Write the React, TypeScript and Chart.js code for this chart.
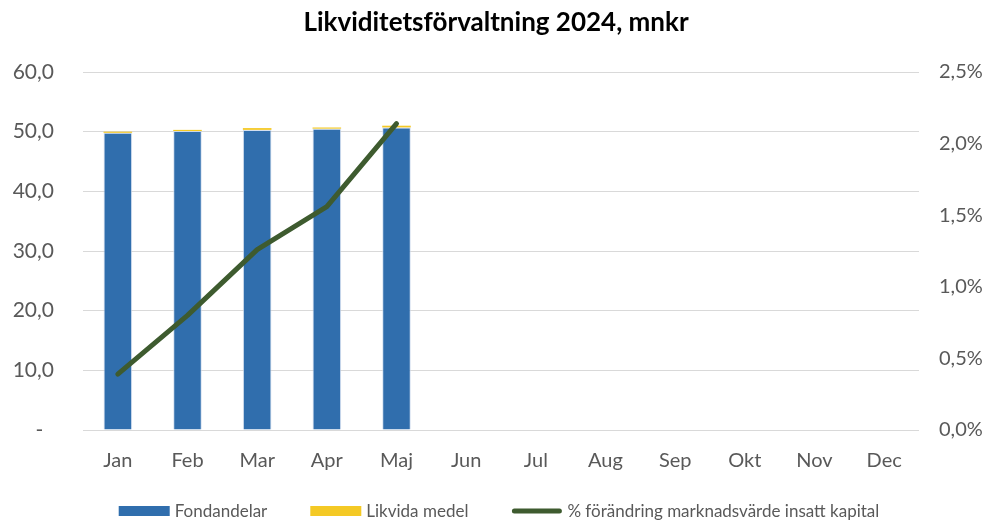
import React, { useEffect, useRef } from "react";
import { Chart, registerables } from "chart.js";

Chart.register(...registerables);

const TITLE = "Likviditetsförvaltning 2024, mnkr";
const MONTHS = ["Jan", "Feb", "Mar", "Apr", "Maj", "Jun", "Jul", "Aug", "Sep", "Okt", "Nov", "Dec"];
const FONDANDELAR = [49.8, 50.1, 50.3, 50.5, 50.7];
const LIKVIDA = [0.2, 0.2, 0.3, 0.2, 0.3];
const PCT_CHANGE = [0.39, 0.8, 1.26, 1.56, 2.14];
const SERIES_NAMES = ["Fondandelar", "Likvida medel", "% förändring marknadsvärde insatt kapital"];

const FONT = "Lato, 'Open Sans', sans-serif";
const BLUE = "#306EAD";
const YELLOW = "#F4C925";
const GREEN = "#3E5B2F";
const GREY = "#595959";

const overlayPlugin = {
  id: "overlay",
  afterDraw(chart: any) {
    const ctx = chart.ctx as CanvasRenderingContext2D;
    ctx.save();
    // title
    ctx.font = `bold 26px ${FONT}`;
    ctx.fillStyle = "#000000";
    ctx.textAlign = "center";
    ctx.textBaseline = "middle";
    ctx.fillText(TITLE, 496, 23);

    // legend
    ctx.font = `17px ${FONT}`;
    ctx.textAlign = "left";
    const boxW = 51;
    const gapText = 5;
    const gapItems = 43;
    const widths = SERIES_NAMES.map((n) => boxW + gapText + ctx.measureText(n).width);
    const total = widths.reduce((a, b) => a + b, 0) + gapItems * (SERIES_NAMES.length - 1);
    let x = 499 - total / 2;
    const y = 511;
    SERIES_NAMES.forEach((name, i) => {
      if (i === 2) {
        ctx.strokeStyle = GREEN;
        ctx.lineWidth = 5;
        ctx.lineCap = "round";
        ctx.beginPath();
        ctx.moveTo(x + 3, y);
        ctx.lineTo(x + boxW - 3, y);
        ctx.stroke();
      } else {
        ctx.fillStyle = i === 0 ? BLUE : YELLOW;
        ctx.fillRect(x, y - 5, boxW, 10);
      }
      ctx.fillStyle = GREY;
      ctx.fillText(name, x + boxW + gapText, y + 1);
      x += widths[i] + gapItems;
    });
    ctx.restore();
  },
};

export default function App() {
  const ref = useRef<HTMLCanvasElement>(null);
  useEffect(() => {
    document.body.style.margin = "0";
    const chart = new Chart(ref.current!, {
      type: "bar",
      data: {
        labels: MONTHS,
        datasets: [
          {
            type: "line" as any,
            label: SERIES_NAMES[2],
            data: PCT_CHANGE,
            yAxisID: "y1",
            borderColor: GREEN,
            backgroundColor: GREEN,
            borderWidth: 5,
            borderCapStyle: "round",
            borderJoinStyle: "round",
            pointRadius: 0,
            tension: 0,
            order: 0,
          } as any,
          {
            label: SERIES_NAMES[0],
            data: FONDANDELAR,
            backgroundColor: BLUE,
            borderColor: "rgba(200,215,235,0.8)",
            borderWidth: 1,
            yAxisID: "y",
            stack: "s",
            order: 2,
            barPercentage: 0.41,
            categoryPercentage: 1,
          },
          {
            label: SERIES_NAMES[1],
            data: LIKVIDA,
            backgroundColor: YELLOW,
            borderWidth: 0,
            yAxisID: "y",
            stack: "s",
            order: 2,
            barPercentage: 0.41,
            categoryPercentage: 1,
          },
        ],
      },
      options: {
        responsive: false,
        maintainAspectRatio: false,
        animation: false,
        layout: { padding: { top: 72, left: 0, right: 0, bottom: 0 } },
        plugins: { legend: { display: false }, title: { display: false }, tooltip: { enabled: false } },
        scales: {
          x: {
            stacked: true,
            grid: { display: false, drawTicks: false },
            border: { display: false },
            ticks: { color: GREY, font: { family: FONT, size: 20 }, padding: 19, maxRotation: 0 },
            afterFit: (s: any) => {
              s.height = 92;
            },
          },
          y: {
            stacked: true,
            position: "left",
            min: 0,
            max: 60,
            grid: { color: "#D9D9D9", lineWidth: 1, drawTicks: false },
            border: { display: false },
            ticks: {
              stepSize: 10,
              color: GREY,
              font: { family: FONT, size: 21 },
              padding: 29,
              callback: (v: any) => (v === 0 ? "-  " : Number(v).toFixed(1).replace(".", ",")),
            },
            afterFit: (s: any) => {
              s.width = 83;
            },
          },
          y1: {
            position: "right",
            min: 0,
            max: 2.5,
            grid: { display: false, drawTicks: false },
            border: { display: false },
            ticks: {
              stepSize: 0.5,
              color: GREY,
              font: { family: FONT, size: 20 },
              padding: 20,
              callback: (v: any) => Number(v).toFixed(1).replace(".", ",") + "%",
            },
            afterFit: (s: any) => {
              s.width = 75;
            },
          },
        },
      },
      plugins: [overlayPlugin],
    });
    return () => chart.destroy();
  }, []);
  return (
    <div style={{ width: 994, height: 522, background: "#fff" }}>
      <canvas ref={ref} width={994} height={522} />
    </div>
  );
}
